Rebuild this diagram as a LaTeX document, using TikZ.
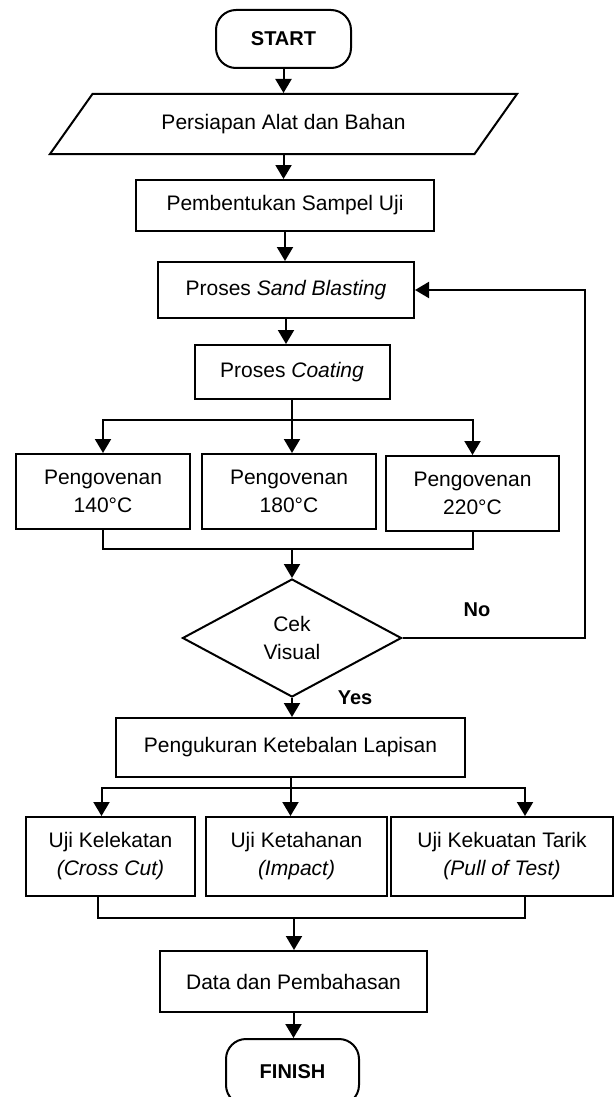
\documentclass[tikz,border=0pt]{standalone}
\usepackage{fontspec}
\setmainfont{Liberation Sans}
\usepackage{tikz}
\usetikzlibrary{arrows.meta, shapes.geometric, positioning}

\tikzset{
  proses/.style={draw, rectangle, line width=1pt, align=center, inner sep=2pt},
  terminal/.style={draw, rectangle, rounded corners=10pt, line width=1pt, font=\bfseries},
  masukan/.style={draw, trapezium, trapezium left angle=33, trapezium right angle=147,
    trapezium stretches body, line width=1pt, inner sep=2pt},
  keputusan/.style={draw, diamond, line width=1pt, align=center, inner sep=0pt},
  panah/.style={-{Triangle[length=7pt, width=8pt]}, line width=1pt},
  garis/.style={line width=1pt}
}

\begin{document}
\begin{tikzpicture}[x=0.5pt, y=-0.5pt, font=\fontsize{10.5}{14}\selectfont]
    \useasboundingbox (0,0) rectangle (615,1097);

    % Alur utama
    \node[terminal, minimum width=67.5pt, minimum height=29pt] (start) at (283.5,39) {START};
    \node[masukan, minimum width=233.5pt, minimum height=30pt] (alat) at (283.5,124) {Persiapan Alat dan Bahan};
    \node[proses, minimum width=149pt, minimum height=25.5pt] (sampel) at (285,205.5) {Pembentukan Sampel Uji};
    \node[proses, minimum width=128pt, minimum height=28pt] (sand) at (286,290) {Proses \textit{Sand Blasting}};
    \node[proses, minimum width=97.5pt, minimum height=27pt] (coat) at (292,372) {Proses \textit{Coating}};

    % Pengovenan
    \node[proses, minimum width=87pt, minimum height=37.5pt] (ov1) at (103,491.5) {Pengovenan\\140°C};
    \node[proses, minimum width=87pt, minimum height=37.5pt] (ov2) at (289,491.5) {Pengovenan\\180°C};
    \node[proses, minimum width=86.5pt, minimum height=37.5pt] (ov3) at (472.5,493.5) {Pengovenan\\220°C};

    % Keputusan
    \node[keputusan, minimum width=109.5pt, minimum height=59pt] (cek) at (292,638) {Cek\\Visual};
    \node[font=\bfseries] (no) at (477,610) {No};
    \node[font=\bfseries] (yes) at (355,698) {Yes};

    \node[proses, minimum width=174.5pt, minimum height=29.5pt] (tebal) at (290.5,747.5) {Pengukuran Ketebalan Lapisan};

    % Pengujian
    \node[proses, minimum width=84.5pt, minimum height=39.5pt] (ua) at (110.5,856.5) {Uji Kelekatan\\\textit{(Cross Cut)}};
    \node[proses, minimum width=90.5pt, minimum height=39.5pt] (ub) at (296.5,856.5) {Uji Ketahanan\\\textit{(Impact)}};
    \node[proses, minimum width=111pt, minimum height=39.5pt] (uc) at (502,856.5) {Uji Kekuatan Tarik\\\textit{(Pull of Test)}};

    \node[proses, minimum width=133.5pt, minimum height=30.5pt] (data) at (293.5,981.5) {Data dan Pembahasan};
    \node[terminal, minimum width=66.5pt, minimum height=33pt] (finish) at (292.5,1072) {FINISH};

    % Titik cabang
    \coordinate (cab1) at (292,420);
    \coordinate (gab1) at (292,549);
    \coordinate (balik) at (585,290);
    \coordinate (cab2) at (290.5,788);
    \coordinate (gab2) at (294,918);

    % Panah
    \draw[panah] (start.south) -- (start.south |- alat.north);
    \draw[panah] (alat.south) -- (alat.south |- sampel.north);
    \draw[panah] (sampel.south) -- (sampel.south |- sand.north);
    \draw[panah] (sand.south) -- (sand.south |- coat.north);
    \draw[panah] (coat.south) -- (coat.south |- ov2.north);
    \draw[panah] (cab1) -| (ov1.north);
    \draw[panah] (cab1) -| (ov3.north);
    \draw[garis] (ov1.south) |- (gab1) -| (ov3.south);
    \draw[panah] (gab1) -- (cek.north);
    \draw[panah] (cek.east) -| (balik) -- (sand.east);
    \draw[panah] (cek.south) -- (cek.south |- tebal.north);
    \draw[panah] (tebal.south) -- (tebal.south |- ub.north);
    \draw[panah] (cab2) -| ([xshift=-4.5pt]ua.north);
    \draw[panah] (cab2) -| ([xshift=11.5pt]uc.north);
    \draw[garis] ([xshift=-6.5pt]ua.south) |- (gab2) -| ([xshift=11.5pt]uc.south);
    \draw[panah] (gab2) -- (gab2 |- data.north);
    \draw[panah] (data.south) -- (data.south |- finish.north);
\end{tikzpicture}
\end{document}
